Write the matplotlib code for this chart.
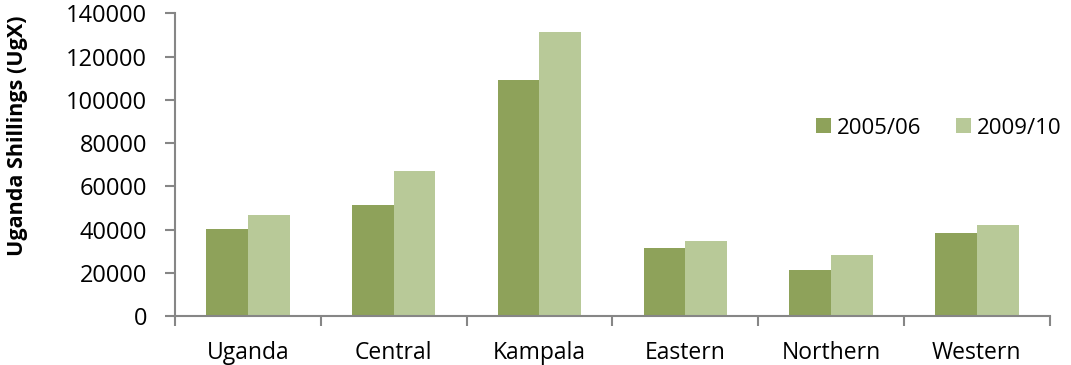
import matplotlib
matplotlib.use('Agg')
import numpy as np
import matplotlib.pyplot as plt
from matplotlib.ticker import FixedLocator

plt.rcParams['font.family'] = ['Open Sans', 'DejaVu Sans']

# mean monthly values by region
regions = ['Uganda', 'Central', 'Kampala', 'Eastern', 'Northern', 'Western']
y2005 = [40300, 51300, 109100, 31600, 21300, 38200]
y2009 = [46800, 67200, 131400, 34700, 28200, 41900]
series_names = ['2005/06', '2009/10']

dark = '#8EA25A'
light = '#B8C998'
axis_grey = '#868686'

fig = plt.figure(figsize=(10.71, 3.65), dpi=100)
ax = fig.add_axes([0.1634, 0.1342, 0.8168, 0.8293])

x = np.arange(len(regions))
w = 1 / 3.5    # gap width 150%
ax.bar(x - w / 2, y2005, w, color=dark, label=series_names[0])
ax.bar(x + w / 2, y2009, w, color=light, label=series_names[1])

ax.set_xlim(-0.5, len(regions) - 0.5)
ax.set_ylim(0, 140000)
ax.set_yticks(np.arange(0, 140001, 20000))
ax.set_xticks(x)
ax.set_xticklabels(regions)
ax.xaxis.set_minor_locator(FixedLocator(np.arange(-0.5, len(regions), 1)))
ax.tick_params(axis='x', which='major', length=0, pad=18, labelsize=16.5)
ax.tick_params(axis='x', which='minor', length=7, width=1.5, color=axis_grey, direction='out')
ax.tick_params(axis='y', length=7, width=1.5, color=axis_grey, labelsize=17, pad=13)

for side in ['top', 'right']:
    ax.spines[side].set_visible(False)
for side in ['left', 'bottom']:
    ax.spines[side].set_color(axis_grey)
    ax.spines[side].set_linewidth(1.5)

ax.set_ylabel('Uganda Shillings (UgX)', fontsize=15.5, fontweight='bold')
ax.yaxis.set_label_coords(-0.168, 0.596)

fig.legend(loc='center left', bbox_to_anchor=(0.754, 0.649), ncol=2, frameon=False,
           fontsize=16, handlelength=0.65, handleheight=0.65, handletextpad=0.25,
           columnspacing=1.6, borderaxespad=0)

fig.savefig('out.png', dpi=100)
